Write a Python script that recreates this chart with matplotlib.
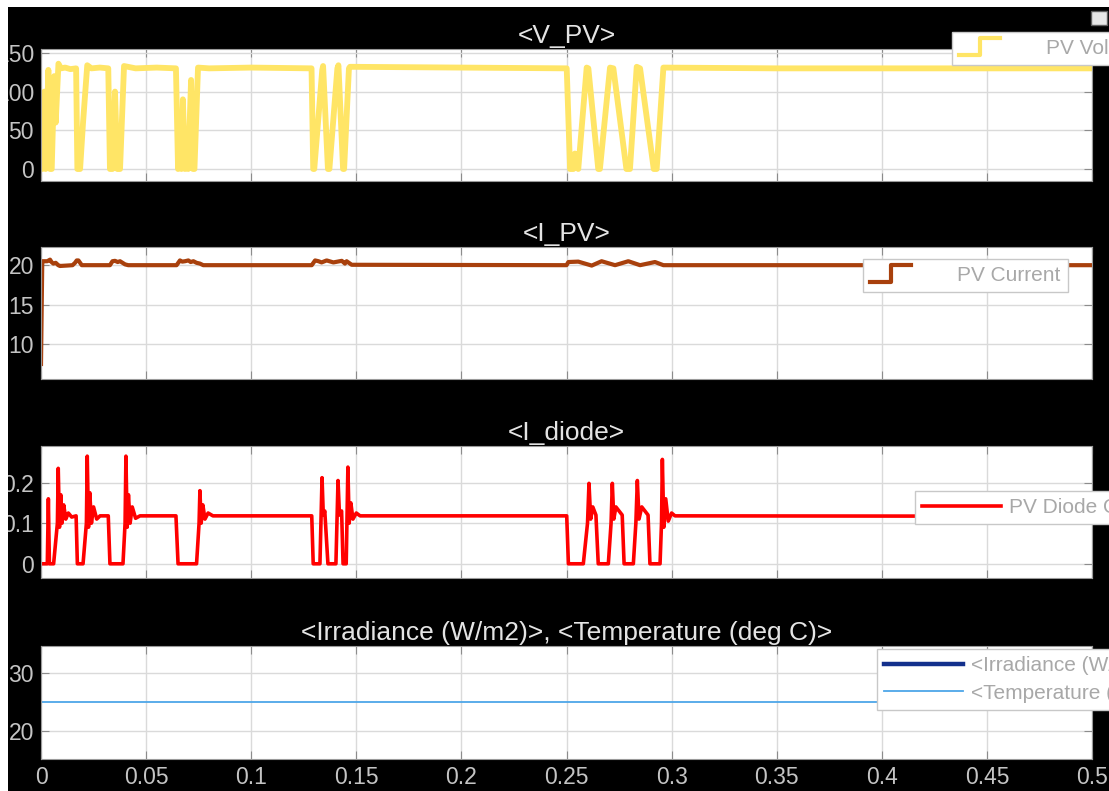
import numpy as np
import matplotlib
matplotlib.use('Agg')
import matplotlib.pyplot as plt
from matplotlib.lines import Line2D
from matplotlib.patches import Rectangle
from matplotlib.legend_handler import HandlerBase

plt.rcParams['font.family'] = ['Liberation Sans', 'DejaVu Sans']

# data (time in s)
vpv_t = [0.0, 0.0006, 0.0016, 0.0022, 0.0035, 0.0043, 0.0051, 0.0063, 0.0070, 0.0083, 0.0095, 0.0115, 0.0140, 0.0167,
         0.0173, 0.0186, 0.0200, 0.0220, 0.0240, 0.0280, 0.0320,
         0.0328, 0.0340, 0.0352, 0.0363, 0.0376, 0.0395, 0.0450, 0.0550, 0.0642,
         0.0652, 0.0662, 0.0668, 0.0675, 0.0685, 0.0692, 0.0700, 0.0714, 0.0723, 0.0730, 0.0747, 0.0800, 0.1000, 0.1287,
         0.1295, 0.1300, 0.1338, 0.1342, 0.1365, 0.1372, 0.1410, 0.1415, 0.1437, 0.1442, 0.1465, 0.1470, 0.2000, 0.2501,
         0.2517, 0.2533, 0.2540, 0.2556, 0.2596, 0.2604, 0.2651, 0.2659, 0.2707, 0.2723, 0.2785, 0.2802, 0.2834, 0.2850,
         0.2915, 0.2929, 0.2961, 0.3500, 0.4000, 0.4500, 0.5000]
vpv_v = [75, 0, 100, 0, 128, 0, 0, 120, 60, 136, 130, 131, 129, 130,
         0, 0, 60, 134, 130, 131, 130,
         0, 0, 100, 0, 0, 133, 130, 131, 130,
         0, 40, 0, 90, 0, 30, 0, 115, 0, 0, 131, 130, 131, 130,
         0, 0, 128, 133, 0, 0, 130, 134, 0, 0, 130, 132, 131, 130,
         0, 0, 20, 0, 131, 130, 0, 0, 131, 130, 0, 0, 132, 130,
         0, 0, 131, 130, 130, 130, 130]

ipv_t = [0.0, 0.0006, 0.0011, 0.0030, 0.0043, 0.0050, 0.0059, 0.0070, 0.0082, 0.0090, 0.0122, 0.0150, 0.0162, 0.0170,
         0.0178, 0.0186, 0.0194, 0.0328, 0.0340, 0.0352, 0.0365, 0.0376, 0.0400, 0.0415, 0.0645, 0.0661, 0.0672, 0.0685,
         0.0701, 0.0712, 0.0725, 0.0740, 0.0756, 0.0772, 0.1288, 0.1304, 0.1320, 0.1335, 0.1359, 0.1391, 0.1431, 0.1446,
         0.1454, 0.1478, 0.2500, 0.2509, 0.2556, 0.2620, 0.2667, 0.2731, 0.2794, 0.2850, 0.2921, 0.2961, 0.5]
ipv_v = [7.5, 20.5, 20.5, 20.5, 20.7, 20.4, 20.2, 20.3, 20.0, 19.9, 19.95, 20.0, 20.3, 20.6,
         20.6, 20.3, 20.0, 20.0, 20.5, 20.55, 20.4, 20.5, 20.1, 20.0, 20.0, 20.6, 20.45, 20.5,
         20.6, 20.4, 20.5, 20.3, 20.2, 20.0, 20.0, 20.6, 20.5, 20.35, 20.6, 20.35, 20.55, 20.2,
         20.5, 20.05, 20.0, 20.4, 20.45, 19.95, 20.5, 20.0, 20.5, 20.0, 20.4, 20.0, 20.0]

id_t = [0.0, 0.0030, 0.0035, 0.0040, 0.0045, 0.0060, 0.0078, 0.0082, 0.0088, 0.0094, 0.0100, 0.0108, 0.0118, 0.0130, 0.0146, 0.0167,
        0.0173, 0.0200, 0.0216, 0.0220, 0.0226, 0.0232, 0.0240, 0.0250, 0.0265, 0.0281, 0.0320,
        0.0328, 0.0390, 0.0400, 0.0404, 0.0410, 0.0416, 0.0424, 0.0434, 0.0450, 0.0471, 0.0642,
        0.0652, 0.0740, 0.0752, 0.0756, 0.0762, 0.0770, 0.0780, 0.0795, 0.0818, 0.1288,
        0.1295, 0.1327, 0.1337, 0.1343, 0.1350, 0.1365, 0.1403, 0.1413, 0.1420, 0.1430, 0.1437, 0.1452, 0.1460, 0.1466,
        0.1474, 0.1484, 0.1500, 0.1518, 0.2501,
        0.2509, 0.2580, 0.2600, 0.2607, 0.2615, 0.2625, 0.2640, 0.2651, 0.2699, 0.2712, 0.2718, 0.2725, 0.2735, 0.2765,
        0.2774, 0.2818, 0.2830, 0.2837, 0.2845, 0.2858, 0.2888, 0.2897, 0.2945, 0.2952, 0.2956, 0.2963, 0.2972, 0.2984,
        0.3000, 0.3016, 0.5]
id_v = [0, 0, 0.16, 0, 0, 0, 0.10, 0.235, 0.09, 0.17, 0.10, 0.145, 0.11, 0.125, 0.115, 0.118,
        0, 0, 0.10, 0.265, 0.09, 0.175, 0.10, 0.14, 0.11, 0.118, 0.118,
        0, 0, 0.10, 0.265, 0.09, 0.17, 0.10, 0.14, 0.112, 0.118, 0.118,
        0, 0, 0.10, 0.18, 0.10, 0.145, 0.11, 0.125, 0.118, 0.118,
        0, 0, 0.212, 0.12, 0.13, 0, 0, 0.205, 0.12, 0.13, 0, 0, 0.238, 0.10,
        0.15, 0.11, 0.125, 0.118, 0.118,
        0, 0, 0.10, 0.198, 0.11, 0.14, 0.12, 0, 0, 0.10, 0.198, 0.11, 0.14, 0.12,
        0, 0, 0.10, 0.205, 0.11, 0.14, 0.12, 0, 0, 0.10, 0.257, 0.09, 0.16, 0.105,
        0.125, 0.118, 0.117]

env_t = [0.0, 0.5]
irr_v = [1000, 1000]
temp_v = [25, 25]

xticks = [0, 0.05, 0.1, 0.15, 0.2, 0.25, 0.3, 0.35, 0.4, 0.45, 0.5]
xtick_labels = ['0', '0.05', '0.1', '0.15', '0.2', '0.25', '0.3', '0.35', '0.4', '0.45', '0.5']

TICK_FS = 16.5
TITLE_FS = 19
LEG_FS = 15


class StairHandler(HandlerBase):
    # simulink style stairs icon
    def create_artists(self, legend, orig_handle, xdescent, ydescent, width, height, fontsize, trans):
        x0, y0 = -xdescent, -ydescent
        xs = [x0, x0 + 0.27 * width, x0 + 0.27 * width, x0 + 0.52 * width]
        ys = [y0 - 0.1 * height, y0 - 0.1 * height, y0 + 1.1 * height, y0 + 1.1 * height]
        ln = Line2D(xs, ys, color=orig_handle.get_color(), lw=3)
        ln.set_transform(trans)
        return [ln]


W, H = 1109, 791
fig = plt.figure(figsize=(W / 100, H / 100), dpi=100, facecolor='black')


def px_axes(left, top, right, bottom):
    return fig.add_axes([left / W, 1 - bottom / H, (right - left) / W, (bottom - top) / H])


def style(ax, ylim, yticks, title, xlabels=False):
    ax.set_facecolor('white')
    ax.set_xlim(0, 0.5)
    ax.set_ylim(*ylim)
    ax.set_xticks(xticks)
    ax.set_yticks(yticks)
    ax.set_yticklabels([f'{v:g}' for v in yticks])
    if xlabels:
        ax.set_xticklabels(xtick_labels)
    ax.grid(True, color='#dadada', lw=1)
    ax.set_axisbelow(True)
    ax.tick_params(direction='in', length=6, color='#8c8c8c', labelcolor='#c4c4c4', labelsize=TICK_FS,
                   top=True, right=True, pad=5, labelbottom=xlabels)
    for s in ax.spines.values():
        s.set_color('#9a9a9a')
    ax.set_title(title, color='#e4e4e4', fontsize=TITLE_FS, pad=4)


def add_legend(ax, handles, labels, x, y, handler_map=None, spacing=0.12):
    leg = ax.legend(handles, labels, loc='upper left', bbox_to_anchor=(x / W, 1 - y / H),
                    bbox_transform=fig.transFigure, borderaxespad=0, frameon=True, fancybox=False,
                    framealpha=1, edgecolor='#c8c8c8', fontsize=LEG_FS, labelcolor='#a8a8a8',
                    handlelength=3.8, handletextpad=0.4, borderpad=0.33, labelspacing=spacing,
                    handler_map=handler_map)
    leg.get_frame().set_linewidth(1)


ax1 = px_axes(41, 49, 1092, 181)
ax2 = px_axes(41, 247, 1092, 379)
ax3 = px_axes(41, 446, 1092, 578)
ax4 = px_axes(41, 646, 1092, 759)

l1, = ax1.plot(vpv_t, vpv_v, color='#FFE566', lw=4.2)
style(ax1, (-15.5, 155), [0, 50, 100, 150], '<V_PV>')
add_legend(ax1, [l1], ['PV Voltage'], 952, 32, {l1: StairHandler()})

l2, = ax2.plot(ipv_t, ipv_v, color='#A8400C', lw=3)
style(ax2, (5.6, 22.3), [10, 15, 20], '<I_PV>')
add_legend(ax2, [l2], ['PV Current'], 863, 259, {l2: StairHandler()})

l3, = ax3.plot(id_t, id_v, color='#FF0000', lw=2.6)
style(ax3, (-0.035, 0.29), [0, 0.1, 0.2], '<I_diode>')
add_legend(ax3, [l3], ['PV Diode Current'], 915, 491)

l4, = ax4.plot(env_t, irr_v, color='#13308C', lw=3.2)
l5, = ax4.plot(env_t, temp_v, color='#4DA6E8', lw=1.3)
style(ax4, (15.2, 34.7), [20, 30], '<Irradiance (W/m2)>, <Temperature (deg C)>', xlabels=True)
add_legend(ax4, [l4, l5], ['<Irradiance (W/m2)>', '<Temperature (deg C)>'], 877, 649, spacing=0.42)

# white margins of the screenshot and the undock icon
fig.add_artist(Rectangle((0, 0), 8 / W, 1, transform=fig.transFigure, facecolor='white', edgecolor='none', zorder=20))
fig.add_artist(Rectangle((0, 1 - 7 / H), 1, 7 / H, transform=fig.transFigure, facecolor='white', edgecolor='none', zorder=20))
fig.add_artist(Rectangle((1091 / W, 1 - 25 / H), 16 / W, 14 / H, transform=fig.transFigure,
                         facecolor='#e8e8e8', edgecolor='#606060', lw=1, zorder=20))

fig.savefig('out.png', dpi=100, facecolor='black')
